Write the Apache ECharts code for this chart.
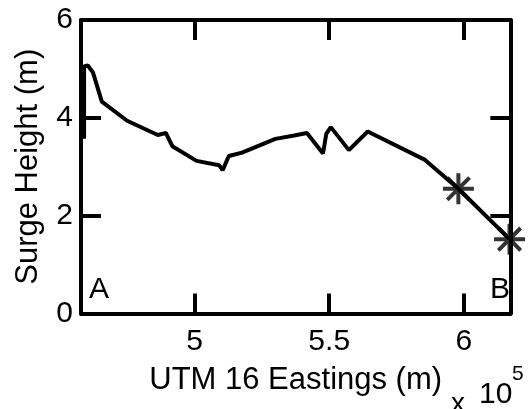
<!DOCTYPE html>
<html>
<head>
<meta charset="utf-8">
<script src="https://cdn.jsdelivr.net/npm/echarts@6/dist/echarts.min.js"></script>
<style>html,body{margin:0;padding:0;background:#fff;}#c{width:528px;height:409px;}</style>
</head>
<body>
<div id="c"></div>
<script>
// Eastings (m)
const eastings = [458900, 458900, 460300, 462200, 465500, 474900, 486300, 489300, 491700, 500700, 509100, 510400, 512700, 517600, 530000, 537000, 541700, 547700, 548900, 550600, 557300, 564300, 585600, 598000, 617000];
// Surge height (m)
const surge = [3.57, 5.05, 5.07, 4.93, 4.33, 3.94, 3.65, 3.69, 3.42, 3.12, 3.03, 2.93, 3.22, 3.29, 3.57, 3.64, 3.69, 3.27, 3.67, 3.81, 3.34, 3.72, 3.14, 2.55, 1.52];
// starred points
const starE = [598000, 617000];
const starH = [2.55, 1.52];
const xTicks = [500000, 550000, 600000];
const yTicks = [0, 2, 4, 6];
const xName = 'UTM 16 Eastings (m)';
const yName = 'Surge Height (m)';

const FONT = 'Liberation Sans, Arial, Helvetica, sans-serif';
const chart = echarts.init(document.getElementById('c'));
const lineData = eastings.map((e, i) => [e, surge[i]]);
const starData = starE.map((e, i) => [e, starH[i]]);
const XMIN = 457760, XMAX = 617300;
const star = 'path://M0,-1L0,1M-1,0L1,0M-0.72,-0.72L0.72,0.72M-0.72,0.72L0.72,-0.72';
const hidden = 'rgba(0,0,0,0)';

function axisLine() { return {show: true, onZero: false, lineStyle: {color: '#000', width: 4}}; }
function tick() { return {show: true, inside: true, length: 20, lineStyle: {color: '#000', width: 4}}; }

chart.setOption({
  animation: false,
  grid: {left: 81, right: 5, top: 16.5, bottom: 95.5},
  xAxis: [{
    type: 'value', min: XMIN, max: XMAX, position: 'bottom',
    name: xName, nameLocation: 'middle', nameGap: 51,
    nameTextStyle: {fontFamily: FONT, fontSize: 31, color: '#000'},
    axisLine: axisLine(),
    axisTick: Object.assign(tick(), {customValues: xTicks}),
    axisLabel: {show: true, customValues: xTicks, margin: 13, fontFamily: FONT, fontSize: 30, color: '#000',
      formatter: v => String(v / 100000)},
    splitLine: {show: false}
  }, {
    type: 'value', min: XMIN, max: XMAX, position: 'top',
    axisLine: axisLine(),
    axisTick: Object.assign(tick(), {customValues: xTicks}),
    axisLabel: {show: true, customValues: xTicks, color: hidden},
    splitLine: {show: false}
  }],
  yAxis: [{
    type: 'value', min: 0, max: 6, interval: 2, position: 'left',
    name: yName, nameLocation: 'middle', nameGap: 37, nameRotate: 90,
    nameTextStyle: {fontFamily: FONT, fontSize: 31, color: '#000'},
    axisLine: axisLine(),
    axisTick: tick(),
    axisLabel: {show: true, margin: 8, fontFamily: FONT, fontSize: 30, color: '#000'},
    splitLine: {show: false}
  }, {
    type: 'value', min: 0, max: 6, interval: 2, position: 'right',
    axisLine: axisLine(),
    axisTick: tick(),
    axisLabel: {show: true, color: hidden},
    splitLine: {show: false}
  }],
  series: [{
    type: 'line', data: lineData, xAxisIndex: 0, yAxisIndex: 0,
    showSymbol: false, symbol: 'none',
    lineStyle: {color: '#000', width: 4}, z: 3
  }, {
    type: 'scatter', data: starData, xAxisIndex: 0, yAxisIndex: 0,
    symbol: star, symbolSize: 31,
    itemStyle: {color: 'none', borderColor: '#000', borderWidth: 4}, z: 4
  }],
  graphic: [
    {type: 'text', z: 10, style: {text: 'A', x: 89, y: 275, font: '30px ' + FONT, fill: '#000', align: 'left', verticalAlign: 'top'}},
    {type: 'text', z: 10, style: {text: 'B', x: 490, y: 275, font: '30px ' + FONT, fill: '#000', align: 'left', verticalAlign: 'top'}},
    {type: 'text', z: 10, style: {text: 'x', x: 451, y: 390, font: '28px ' + FONT, fill: '#000', align: 'left', verticalAlign: 'top'}},
    {type: 'text', z: 10, style: {text: '10', x: 479, y: 380, font: '30px ' + FONT, fill: '#000', align: 'left', verticalAlign: 'top'}},
    {type: 'text', z: 10, style: {text: '5', x: 512, y: 364, font: '21px ' + FONT, fill: '#000', align: 'left', verticalAlign: 'top'}}
  ]
});
</script>
</body>
</html>
